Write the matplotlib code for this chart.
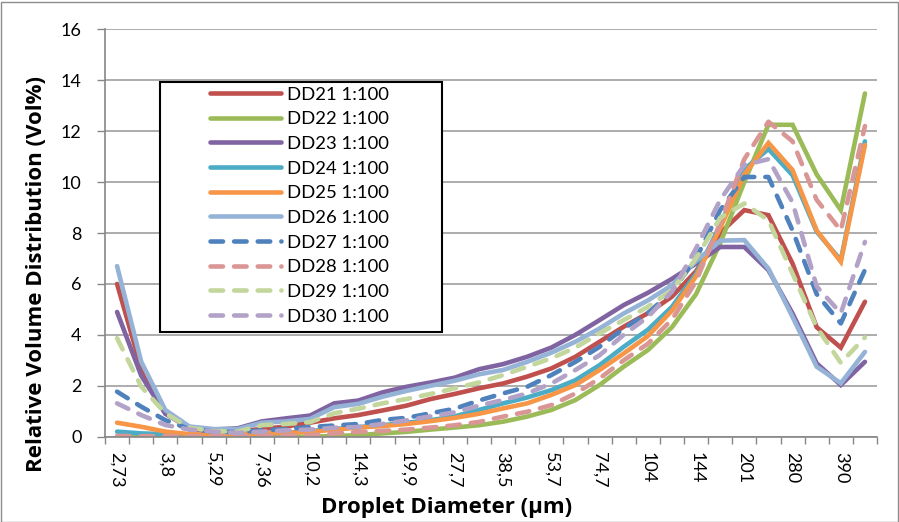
import numpy as np
import matplotlib; matplotlib.use("Agg")
import matplotlib.pyplot as plt
from matplotlib.patches import Rectangle

plt.rcParams["font.family"] = ["Lato", "DejaVu Sans"]
plt.rcParams["lines.scale_dashes"] = False

# Droplet diameter classes (µm); every second one is labelled
diam = ["2,73", "3,22", "3,8", "4,48", "5,29", "6,24", "7,36", "8,68",
        "10,2", "12,1", "14,3", "16,8", "19,9", "23,4", "27,7", "32,6",
        "38,5", "45,4", "53,7", "63,3", "74,7", "88,1", "104", "122",
        "144", "170", "201", "237", "280", "331", "390", "460"]

dd21 = [6.0, 2.7, 0.95, 0.3, 0.2, 0.22, 0.3, 0.4, 0.55, 0.72, 0.85, 1.03, 1.22, 1.48, 1.68, 1.9,
        2.09, 2.36, 2.68, 3.14, 3.73, 4.32, 4.85, 5.5, 6.5, 8.0, 8.9, 8.7, 6.8, 4.3, 3.5, 5.3]
dd22 = [0.0, 0.0, 0.0, 0.0, 0.0, 0.0, 0.0, 0.0, 0.0, 0.03, 0.06, 0.13, 0.19, 0.28, 0.36, 0.45,
        0.59, 0.79, 1.05, 1.44, 2.03, 2.75, 3.4, 4.3, 5.6, 7.6, 10.0, 12.25, 12.25, 10.3, 8.9, 13.48]
dd23 = [4.9, 2.4, 0.9, 0.35, 0.28, 0.33, 0.6, 0.72, 0.83, 1.31, 1.42, 1.74, 1.96, 2.13, 2.32, 2.65,
        2.85, 3.14, 3.5, 4.0, 4.58, 5.17, 5.65, 6.2, 6.8, 7.45, 7.45, 6.54, 4.84, 2.88, 2.03, 2.94]
dd24 = [0.2, 0.13, 0.1, 0.05, 0.05, 0.05, 0.1, 0.15, 0.22, 0.3, 0.38, 0.45, 0.55, 0.65, 0.8, 1.05,
        1.31, 1.54, 1.83, 2.22, 2.81, 3.53, 4.2, 5.1, 6.4, 8.3, 10.5, 11.3, 10.27, 8.05, 6.93, 11.6]
dd25 = [0.55, 0.39, 0.2, 0.1, 0.08, 0.08, 0.12, 0.15, 0.19, 0.28, 0.36, 0.42, 0.5, 0.61, 0.74, 0.9,
        1.11, 1.31, 1.64, 2.03, 2.62, 3.27, 3.95, 4.95, 6.3, 8.2, 10.3, 11.54, 10.47, 8.1, 6.87, 11.45]
dd26 = [6.7, 2.95, 1.05, 0.4, 0.3, 0.3, 0.55, 0.6, 0.7, 1.16, 1.29, 1.57, 1.8, 2.0, 2.2, 2.45,
        2.62, 2.94, 3.3, 3.73, 4.25, 4.84, 5.35, 5.95, 6.9, 7.7, 7.72, 6.6, 4.7, 2.75, 2.1, 3.33]
dd27 = [1.77, 1.18, 0.65, 0.3, 0.2, 0.18, 0.25, 0.3, 0.38, 0.44, 0.5, 0.66, 0.74, 0.92, 1.1, 1.42,
        1.7, 1.96, 2.42, 2.94, 3.53, 4.25, 4.85, 5.7, 7.0, 8.9, 10.2, 10.2, 8.1, 5.6, 4.45, 6.55]
dd28 = [0.03, 0.02, 0.02, 0.02, 0.02, 0.02, 0.03, 0.05, 0.06, 0.13, 0.19, 0.23, 0.28, 0.36, 0.45, 0.58,
        0.79, 0.98, 1.24, 1.7, 2.29, 3.0, 3.65, 4.6, 6.1, 8.4, 10.9, 12.37, 11.6, 9.3, 8.1, 12.2]
dd29 = [3.87, 1.97, 0.92, 0.35, 0.22, 0.2, 0.45, 0.5, 0.57, 0.92, 1.1, 1.31, 1.48, 1.68, 1.9, 2.13,
        2.42, 2.75, 3.08, 3.5, 4.06, 4.58, 5.1, 5.75, 7.0, 8.6, 9.16, 8.5, 6.4, 4.3, 2.9, 3.9]
dd30 = [1.31, 0.85, 0.46, 0.28, 0.2, 0.15, 0.2, 0.25, 0.28, 0.35, 0.38, 0.5, 0.64, 0.8, 0.96, 1.22,
        1.44, 1.7, 2.09, 2.62, 3.2, 4.0, 4.7, 5.7, 7.4, 9.3, 10.67, 10.9, 9.2, 5.9, 4.85, 7.65]

series = [("DD21 1:100", dd21, "#C0504D", False),
          ("DD22 1:100", dd22, "#9BBB59", False),
          ("DD23 1:100", dd23, "#8064A2", False),
          ("DD24 1:100", dd24, "#4BACC6", False),
          ("DD25 1:100", dd25, "#F79646", False),
          ("DD26 1:100", dd26, "#95B3D7", False),
          ("DD27 1:100", dd27, "#4F81BD", True),
          ("DD28 1:100", dd28, "#D99694", True),
          ("DD29 1:100", dd29, "#C3D69B", True),
          ("DD30 1:100", dd30, "#B3A2C7", True)]

W, H = 899, 522
fig = plt.figure(figsize=(W/100, H/100), dpi=100)
ax = fig.add_axes([105/W, 1-436.7/H, (877-105)/W, (436.7-29.3)/H])

x = np.arange(len(diam))
for lab, vals, col, dashed in series:
    kw = dict(dashes=(9, 8), dash_capstyle="round") if dashed else dict(solid_capstyle="round")
    ax.plot(x, vals, color=col, lw=3.3, label=lab, solid_joinstyle="miter", **kw)

ax.set_xlim(-0.5, len(diam)-0.5)
ax.set_ylim(0, 16)
ax.set_yticks(range(0, 17, 2))
ax.grid(axis="y", color="#A6A6A6", lw=1.3)
ax.set_axisbelow(True)

ax.set_xticks(np.arange(-0.5, len(diam)), labels=[])
ax.set_xticks(x[::2], labels=diam[::2], minor=True)
ax.tick_params(axis="x", which="major", length=5, width=1, color="#868686", direction="out")
ax.tick_params(axis="x", which="minor", length=0, pad=11, labelsize=13, labelrotation=270)
ax.tick_params(axis="y", length=6, width=1, color="#868686", labelsize=13, pad=11)
for s in ["top", "right"]:
    ax.spines[s].set_visible(False)
for s in ["left", "bottom"]:
    ax.spines[s].set_color("#868686")
    ax.spines[s].set_linewidth(1.2)

lab_font = dict(fontsize=16, fontweight="bold", family=["Open Sans", "DejaVu Sans"])
ax.set_xlabel("Droplet Diameter (µm)", **lab_font)
ax.set_ylabel("Relative Volume Distribution (Vol%)", **lab_font)
ax.xaxis.set_label_coords((446.7-105)/772, (436.7-508)/407.4)
ax.xaxis.label.set_va("center")
ax.yaxis.set_label_coords((36.5-105)/772, (436.7-274)/407.4)
ax.yaxis.label.set_va("center")

# legend box drawn separately so the entries sit centred like the original
ax.add_patch(Rectangle((160/W, 1-331.7/H), (441.7-160)/W, (331.7-81.7)/H,
                       transform=fig.transFigure, facecolor="white", edgecolor="black",
                       lw=1.5, zorder=4, clip_on=False))
ax.legend(loc="upper left", bbox_to_anchor=(210/W, 1-86.5/H), bbox_transform=fig.transFigure,
          frameon=False, fontsize=13.3, handlelength=3.85, handletextpad=0.3,
          labelspacing=0.47, borderpad=0, borderaxespad=0)

fig.add_artist(Rectangle((0.5/W, 0.5/H), 1-2/W, 1-2/H, transform=fig.transFigure,
                         fill=False, edgecolor="#8C8C8C", lw=1))
fig.savefig("out.png", dpi=100)
